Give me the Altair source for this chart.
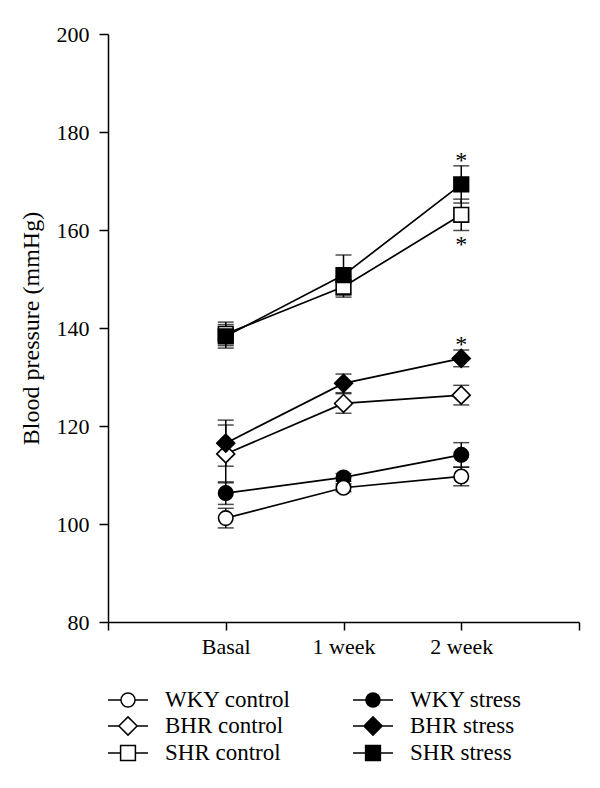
import altair as alt
import pandas as pd

# ---- data ----
time_pos = [1, 2, 3]
tick_values = [0, 1, 2, 3, 4]
tick_labels = ["", "Basal", "1 week", "2 week", ""]

series = ["WKY control", "BHR control", "SHR control", "WKY stress", "BHR stress", "SHR stress"]
draw_order = ["WKY stress", "WKY control", "BHR control", "BHR stress", "SHR control", "SHR stress"]

wky_control = [101.2, 107.4, 109.7]
wky_control_sem = [2.0, 0.8, 1.9]
wky_stress = [106.3, 109.5, 114.1]
wky_stress_sem = [2.3, 0.8, 2.5]
bhr_control = [114.3, 124.6, 126.3]
bhr_control_sem = [5.9, 2.0, 2.0]
bhr_stress = [116.5, 128.7, 133.8]
bhr_stress_sem = [4.7, 1.9, 1.7]
shr_control = [138.8, 148.4, 163.1]
shr_control_sem = [2.4, 2.1, 3.2]
shr_stress = [138.3, 150.8, 169.3]
shr_stress_sem = [2.4, 4.1, 3.8]

# significance markers at "2 week"
stars_above = ["SHR stress", "BHR stress"]
stars_below = ["SHR control"]
star_time = 3

means = dict(zip(series, [wky_control, bhr_control, shr_control, wky_stress, bhr_stress, shr_stress]))
sems = dict(zip(series, [wky_control_sem, bhr_control_sem, shr_control_sem, wky_stress_sem,
                         bhr_stress_sem, shr_stress_sem]))

shapes = dict(zip(series, ["circle", "diamond", "square", "circle", "diamond", "square"]))
fills = dict(zip(series, ["white", "white", "white", "black", "black", "black"]))
sizes = dict(zip(series, [210, 320, 215, 210, 320, 215]))

rows = []
for s in draw_order:
    for t, m, e in zip(time_pos, means[s], sems[s]):
        rows.append(dict(series=s, x=t, mean=m, lo=m - e, hi=m + e))
df = pd.DataFrame(rows)

# legend symbols: line + marker, unit = half of sqrt(symbol size)
circ = "M-1.54,0L-0.54,0M0.54,0L1.54,0M-0.54,0A0.54,0.54,0,1,0,0.54,0A0.54,0.54,0,1,0,-0.54,0Z"
diam = "M-1.54,0L-0.7,0M0.7,0L1.54,0M-0.7,0L0,-0.7L0.7,0L0,0.7Z"
sqr = "M-1.54,0L-0.57,0M0.57,0L1.54,0M-0.57,-0.57L0.57,-0.57L0.57,0.57L-0.57,0.57Z"
legend_paths = [circ, diam, sqr, circ, diam, sqr]
legend_fills = [fills[s] for s in series]
legend_strokes = ["black"] * len(series)

FONT = "Liberation Serif"
label_expr = "[" + ",".join("'%s'" % l for l in tick_labels) + "][datum.value]"

x_enc = alt.X("x:Q", scale=alt.Scale(domain=[0, 4], nice=False, zero=False),
              axis=alt.Axis(values=tick_values, labelExpr=label_expr, title=None,
                            grid=False, tickSize=8, labelPadding=6))
y_scale = alt.Scale(domain=[80, 200], nice=False, zero=False)
y_axis = alt.Axis(values=[80, 100, 120, 140, 160, 180, 200], title="Blood pressure (mmHg)",
                  grid=False, tickSize=9, labelPadding=10, titlePadding=13,
                  titleColor="#000000", titleFont=FONT, titleFontSize=24)

base = alt.Chart(df)

err = base.mark_rule(color="black", strokeWidth=1.5).encode(
    x=x_enc, y=alt.Y("lo:Q", scale=y_scale, axis=y_axis), y2="hi:Q")
cap_lo = base.mark_tick(color="black", orient="horizontal", size=16, thickness=1.5).encode(
    x="x:Q", y="lo:Q")
cap_hi = base.mark_tick(color="black", orient="horizontal", size=16, thickness=1.5).encode(
    x="x:Q", y="hi:Q")
lines = base.mark_line(color="black", strokeWidth=1.7).encode(
    x="x:Q", y="mean:Q", detail="series:N")

point_layers = []
for s in draw_order:
    point_layers.append(
        base.transform_filter(alt.datum.series == s).mark_point(
            shape=shapes[s], size=sizes[s], filled=True, fill=fills[s], stroke="black",
            strokeWidth=1.6, opacity=1).encode(x="x:Q", y="mean:Q"))

star_df_above = df[(df["series"].isin(stars_above)) & (df["x"] == star_time)]
star_df_below = df[(df["series"].isin(stars_below)) & (df["x"] == star_time)]
star_up = alt.Chart(star_df_above).mark_text(text="*", font=FONT, fontSize=24, color="black",
                                             baseline="alphabetic", dy=2).encode(x="x:Q", y="hi:Q")
star_dn = alt.Chart(star_df_below).mark_text(text="*", font=FONT, fontSize=24, color="black",
                                             baseline="alphabetic", dy=22).encode(x="x:Q", y="lo:Q")

leg = alt.Legend(title=None, orient="none", legendX=6, legendY=652, columns=2,
                 columnPadding=58, rowPadding=-2, labelFont=FONT, labelFontSize=23,
                 labelColor="black", labelOffset=23, symbolSize=676,
                 symbolStrokeWidth=1.5, padding=0)
legend_layer = base.transform_filter("false").mark_point(
    filled=False, strokeWidth=1.5, size=676, opacity=1).encode(
    x="x:Q", y="mean:Q",
    shape=alt.Shape("series:N", scale=alt.Scale(domain=series, range=legend_paths), legend=leg),
    fill=alt.Fill("series:N", scale=alt.Scale(domain=series, range=legend_fills), legend=leg),
    stroke=alt.Stroke("series:N", scale=alt.Scale(domain=series, range=legend_strokes), legend=leg),
)

chart = alt.layer(err, cap_lo, cap_hi, lines, *point_layers, star_up, star_dn, legend_layer).properties(
    width=471, height=588,
    autosize=alt.AutoSizeParams(type="none"),
    padding={"left": 100, "top": 26, "right": 13, "bottom": 158},
    background="white",
).configure_view(stroke=None).configure_axis(
    domainColor="black", domainWidth=1.5, tickColor="black", tickWidth=1.5,
    labelFont=FONT, labelFontSize=22, labelColor="black",
    titleFont=FONT, titleFontSize=24, titleColor="black", titleFontWeight="normal",
)

chart.save("out.html", embed_options={"renderer": "svg", "actions": False})
